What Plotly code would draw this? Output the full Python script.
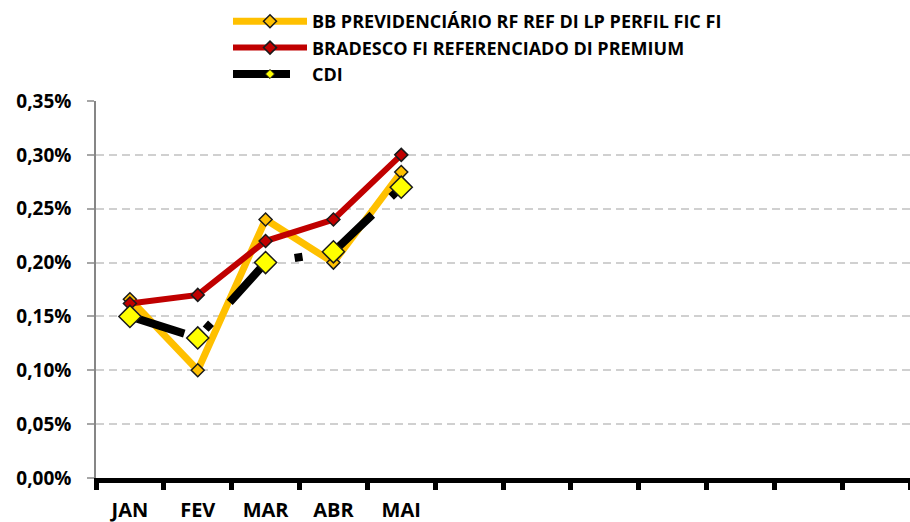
import plotly.graph_objects as go

# ---- data ----
months_x = [0, 1, 2, 3, 4]
month_labels = ["JAN", "FEV", "MAR", "ABR", "MAI"]
bb_values = [0.166, 0.100, 0.240, 0.200, 0.284]
bradesco_values = [0.162, 0.170, 0.220, 0.240, 0.300]
cdi_values = [0.150, 0.130, 0.200, 0.210, 0.270]
y_ticks = [0.00, 0.05, 0.10, 0.15, 0.20, 0.25, 0.30, 0.35]
y_tick_labels = ["0,00%", "0,05%", "0,10%", "0,15%", "0,20%", "0,25%", "0,30%", "0,35%"]

FONT = "Open Sans"
OUTLINE = dict(color="#1a1a1a", width=1.5)

fig = go.Figure()
fig.add_trace(go.Scatter(
    x=months_x, y=bb_values, name="BB PREVIDENCIÁRIO RF REF DI LP PERFIL FIC FI",
    mode="lines+markers",
    line=dict(color="#FFC000", width=7),
    marker=dict(symbol="diamond", size=10, color="#FFC000", line=OUTLINE),
))
fig.add_trace(go.Scatter(
    x=months_x, y=bradesco_values, name="BRADESCO FI REFERENCIADO DI PREMIUM",
    mode="lines+markers",
    line=dict(color="#C00000", width=6),
    marker=dict(symbol="diamond", size=10, color="#C00000", line=OUTLINE),
))
fig.add_trace(go.Scatter(
    x=months_x, y=cdi_values, name="CDI",
    mode="lines+markers",
    line=dict(color="#000000", width=8, dash="57px,26px,8px,28px"),
    marker=dict(symbol="diamond", size=7, color="#FFFF00", line=dict(color="#1a1a1a", width=1)),
))
fig.add_trace(go.Scatter(
    x=months_x, y=cdi_values, name="CDI", showlegend=False,
    mode="markers",
    marker=dict(symbol="diamond", size=17, color="#FFFF00", line=OUTLINE),
))

fig.update_layout(
    width=910, height=522,
    margin=dict(l=96, r=0, t=101, b=44, autoexpand=False),
    plot_bgcolor="white", paper_bgcolor="white",
    showlegend=True,
    legend=dict(
        xref="container", yref="container", x=228 / 910, y=1 - 3 / 522,
        xanchor="left", yanchor="top",
        font=dict(family=FONT, size=18, color="black", weight="bold"),
        itemwidth=74, traceorder="normal",
        bgcolor="rgba(0,0,0,0)",
    ),
    xaxis=dict(
        range=[-0.5, 11.5], tickmode="array", tickvals=months_x, ticktext=month_labels,
        ticks="", ticklen=0, showgrid=False, zeroline=False,
        showline=True, linecolor="black", linewidth=5,
        tickfont=dict(family=FONT, size=20, color="black", weight="bold"),
        ticklabelstandoff=10, tickangle=0,
        minor=dict(ticks="outside", tick0=-0.5, dtick=1, ticklen=7, tickwidth=5,
                   tickcolor="black", showgrid=False),
    ),
    yaxis=dict(
        range=[0, 0.35], tickmode="array", tickvals=y_ticks, ticktext=y_tick_labels,
        ticks="outside", ticklen=7, tickcolor="#A6A6A6", tickwidth=1.5,
        showline=True, linecolor="#868686", linewidth=1.5,
        showgrid=True, gridcolor="#D0D0D0", gridwidth=2, griddash="8px,5px",
        zeroline=False,
        tickfont=dict(family=FONT, size=19, color="black", weight="bold"),
        ticklabelstandoff=12,
    ),
)

fig.write_html("out.html", config={"displayModeBar": False},
               post_script="document.body.style.margin='0';")
